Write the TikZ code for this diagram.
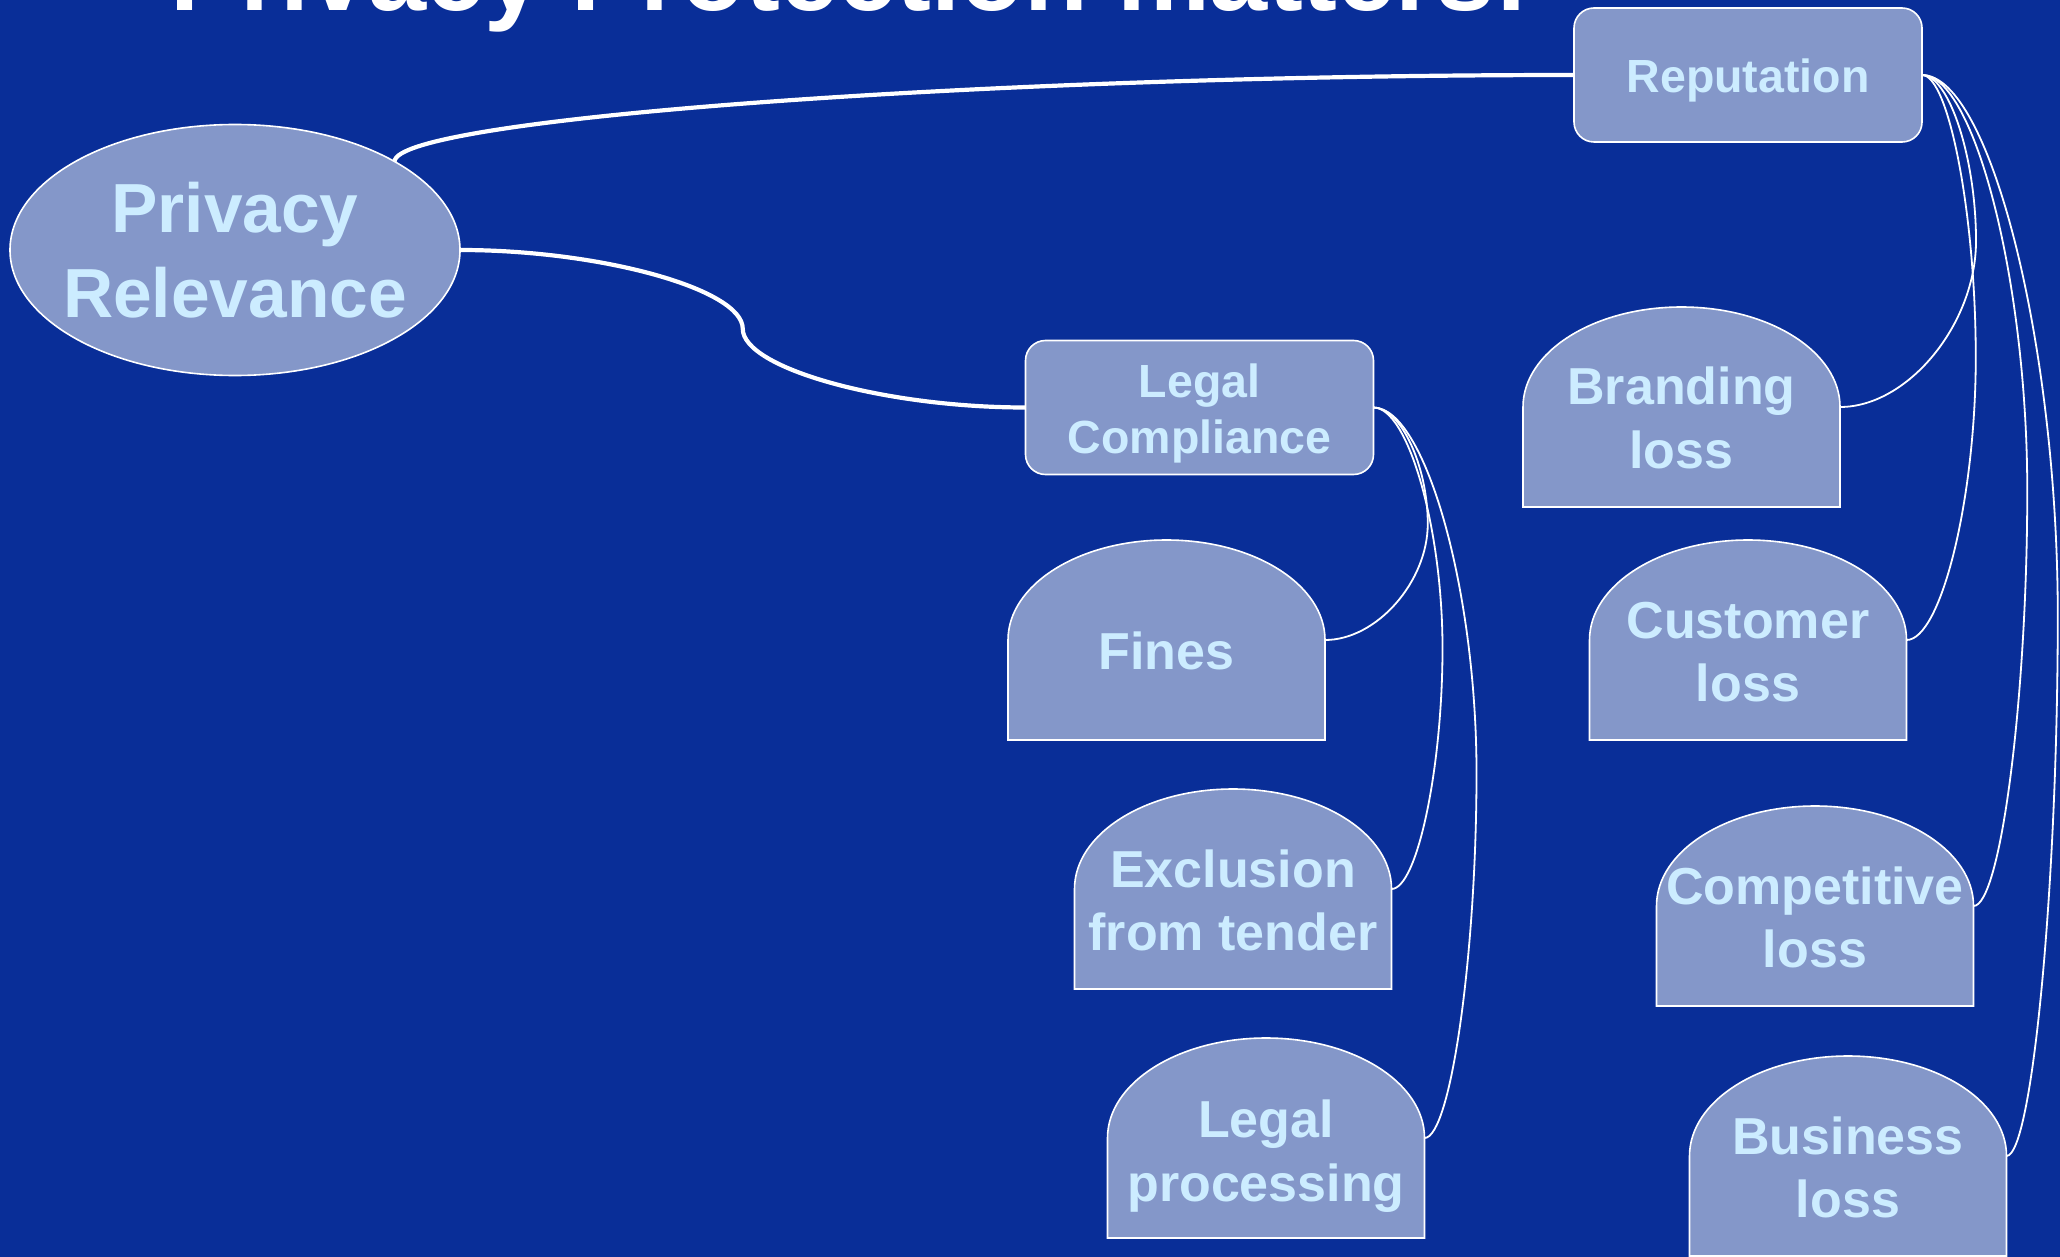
\documentclass[tikz,border=0pt]{standalone}
\usepackage{fontspec}
\setmainfont{Liberation Sans}
\usetikzlibrary{shapes.geometric,calc}

\definecolor{deepblue}{RGB}{9,46,152}
\definecolor{lilac}{RGB}{132,151,201}
\definecolor{paleblue}{RGB}{204,236,255}

\pgfdeclarelayer{back}
\pgfsetlayers{back,main}

\newcommand{\padline}[1]{\rule{0pt}{#1}}

\tikzset{
    root/.style={ellipse, fill=lilac, draw=white, line width=0.8pt, minimum width=225pt, minimum height=125.5pt,
        inner sep=0pt, outer sep=0pt, text=paleblue, font=\fontsize{34.75}{42.5}\selectfont\bfseries, align=center},
    branch/.style={rectangle, rounded corners=10pt, fill=lilac, draw=white, line width=0.8pt, minimum width=174pt,
        minimum height=67pt, inner sep=0pt, outer sep=0pt, text=paleblue, font=\fontsize{23.25}{28}\selectfont\bfseries, align=center},
    leaf/.style={rectangle, minimum width=158.5pt, minimum height=100pt, inner sep=0pt, outer sep=0pt,
        text=paleblue, font=\fontsize{26}{31.75}\selectfont\bfseries, align=center},
    leafline/.style={fill=lilac, draw=white, line width=0.8pt},
    trunk/.style={draw=white, line width=2.1pt},
    twig/.style={draw=white, line width=0.9pt}
}

\begin{document}
\begin{tikzpicture}[x=0.5pt, y=-0.5pt]

    \useasboundingbox (0,0) rectangle (2060,1257);
    \clip (0,0) rectangle (2060,1257);
    \begin{pgfonlayer}{back}
        \fill[deepblue] (0,0) rectangle (2060,1257); % fundo
    \end{pgfonlayer}

    \node[text=white, font=\fontsize{52.25}{62}\selectfont\bfseries, anchor=base] (title) at (850,11) {Privacy Protection matters!};

    \node[root] (privacy) at (235,250) {\makebox[0pt]{Privacy}\\\makebox[0pt]{Relevance}};
    \node[branch] (reputation) at (1748,75) {\padline{22.5pt}Reputation};
    \node[branch] (legal) at (1199.5,407.5) {\padline{22.5pt}Legal\\Compliance};

    \node[leaf] (fines)   at (1166.5,640) {\padline{30pt}Fines};
    \node[leaf] (tender)  at (1233,889)   {\padline{30pt}Exclusion\\from tender};
    \node[leaf] (process) at (1266,1138)  {\padline{37pt}Legal\\processing};

    \node[leaf] (branding)    at (1681.5,407) {\padline{30pt}Branding\\loss};
    \node[leaf] (customer)    at (1748,640)   {\padline{30pt}Customer\\loss};
    \node[leaf] (competitive) at (1815,906)   {\padline{30pt}Competitive\\loss};
    \node[leaf] (business)    at (1848,1156)  {\padline{30pt}Business\\loss};

    % contorno das folhas
    \begin{pgfonlayer}{back}
        \foreach \n in {fines,tender,process,branding,customer,competitive,business}
            \draw[leafline] (\n.south west) -- (\n.west) arc[start angle=180, end angle=0, x radius=79.25pt, y radius=50pt] -- (\n.south east) -- cycle;
    \end{pgfonlayer}

    \draw[trunk] (privacy.29) to[out=90, in=180, out distance=21.5pt, in distance=295pt] (reputation.west); % ramo de cima
    \draw[trunk] (privacy.east) to[out=0, in=90, out distance=70.5pt, in distance=19.75pt] ($(privacy.east)!0.5!(legal.west)$)
        to[out=270, in=180, out distance=19.75pt, in distance=70.5pt] (legal.west); % ramo de baixo

    \foreach \n/\dx/\a/\b/\c in {fines/78.5/13.5pt/29pt/25.75pt, tender/60/17.25pt/60pt/12.75pt, process/77.5/25.75pt/91.25pt/13pt}
        \draw[twig] (legal.east) to[out=0, in=90, out distance=\a, in distance=\b] ($(legal.east)!0.5!(\n.east)+(\dx,0)$)
            to[out=270, in=0, out distance=\b, in distance=\c] (\n.east);

    \foreach \n/\dx/\a/\b/\c in {branding/95/13.5pt/41.4pt/34pt, customer/61.5/13.5pt/70.5pt/17.25pt,
                                 competitive/79.5/26.25pt/103.75pt/13.5pt, business/93.5/34pt/135pt/12.75pt}
        \draw[twig] (reputation.east) to[out=0, in=90, out distance=\a, in distance=\b] ($(reputation.east)!0.5!(\n.east)+(\dx,0)$)
            to[out=270, in=0, out distance=\b, in distance=\c] (\n.east);

\end{tikzpicture}
\end{document}
